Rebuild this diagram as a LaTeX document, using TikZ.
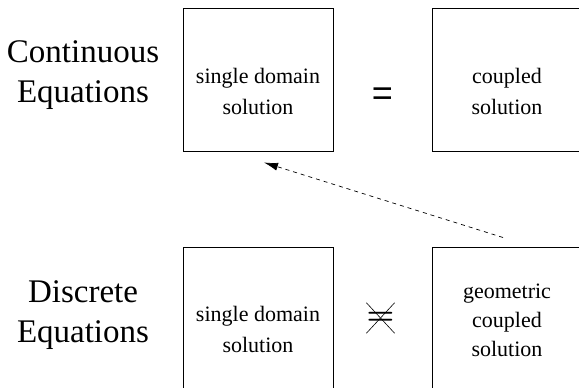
\documentclass[tikz,border=0pt]{standalone}
\usepackage{fontspec}
\setmainfont{Liberation Serif}
\newfontfamily\relfont{Liberation Sans}
\usetikzlibrary{positioning,arrows.meta}

\tikzset{
  solnbox/.style={draw, line width=1pt, minimum width=150pt, minimum height=143pt, inner sep=0pt},
  solntext/.style={align=center, inner sep=0pt, font=\fontsize{22}{31}\selectfont},
  eqnlabel/.style={align=center, inner sep=0pt, font=\fontsize{33}{40}\selectfont},
  relsign/.style={inner sep=0pt, font=\relfont\fontsize{36}{36}\selectfont},
}

\begin{document}
\begin{tikzpicture}[x=1pt, y=-1pt]
        \useasboundingbox (0,0) rectangle (579,388);
        % the four solution boxes
        \node [solnbox] (sc) at (258,79.5) {};
        \node [solnbox] (cc) at (507,79.5) {};
        \node [solnbox, below=95.5pt of sc] (sd) {};
        \node [solnbox, below=95.5pt of cc] (gd) {};
        \node [solntext] (sctext) at ([yshift=-12pt]sc.center) {single domain\\solution};
        \node [solntext] (cctext) at ([yshift=-12pt]cc.center) {coupled\\solution};
        \node [solntext] (sdtext) at ([yshift=-10pt]sd.center) {single domain\\solution};
        \node [solntext, font=\fontsize{22}{29}\selectfont] (gdtext) at ([yshift=-1.5pt]gd.center) {geometric\\coupled\\solution};
        % row labels
        \node [eqnlabel] (contlabel) at (83,75) {Continuous\\Equations};
        \node [eqnlabel] (disclabel) at (83,315) {Discrete\\Equations};
        % relations
        \node [relsign] (eq) at (382.5,96.5) {=};
        \node [inner sep=0pt, minimum width=24pt, minimum height=30pt] (neq) at (380.5,318) {\scalebox{3.1}{\boldmath$=$}};
        \draw [line width=0.6pt] (neq.north west) -- (neq.south east);
        \draw [line width=0.6pt] (neq.north east) -- (neq.south west);
        %\draw [thick, dashed] (sc) -- (sd);
        \draw [line width=0.7pt, dash pattern=on 4pt off 4pt, -{Latex[length=14pt, width=8pt]}] ([xshift=-4pt, yshift=9.5pt]gd.north) -- ([xshift=6pt, yshift=-11pt]sc.south);
    \end{tikzpicture}
\end{document}
